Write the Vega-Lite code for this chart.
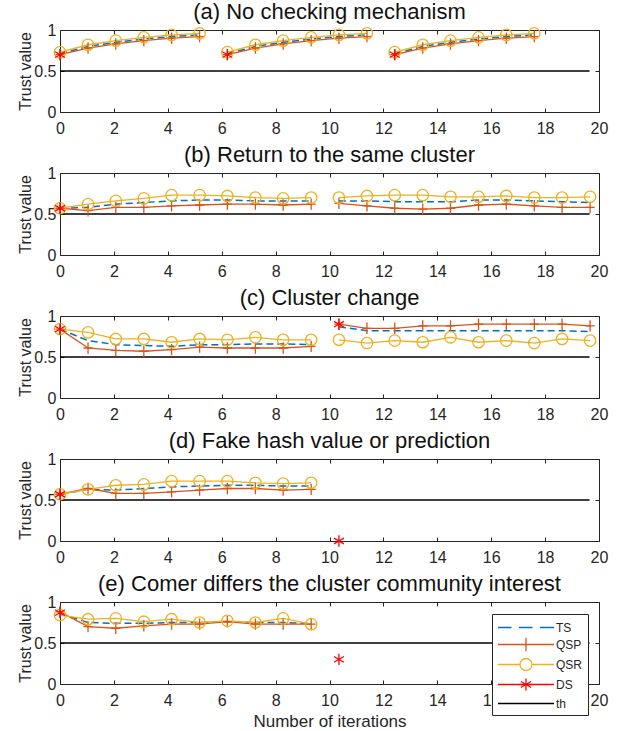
{
"$schema": "https://vega.github.io/schema/vega-lite/v6.json",
"padding": {"left": 17, "top": 0, "right": 5, "bottom": 0},
"background": "white",
"spacing": 6,
"data": {"values": [
{"p":"a","s":"th","g":1,"x":0,"y":0.5},{"p":"a","s":"th","g":1,"x":19.65,"y":0.5},
{"p":"a","s":"TS","g":1,"x":0,"y":0.71},{"p":"a","s":"TS","g":1,"x":1.04,"y":0.8},{"p":"a","s":"TS","g":1,"x":2.07,"y":0.85},{"p":"a","s":"TS","g":1,"x":3.11,"y":0.89},{"p":"a","s":"TS","g":1,"x":4.14,"y":0.92},{"p":"a","s":"TS","g":1,"x":5.18,"y":0.94},
{"p":"a","s":"TS","g":2,"x":6.21,"y":0.71},{"p":"a","s":"TS","g":2,"x":7.25,"y":0.8},{"p":"a","s":"TS","g":2,"x":8.28,"y":0.85},{"p":"a","s":"TS","g":2,"x":9.32,"y":0.89},{"p":"a","s":"TS","g":2,"x":10.35,"y":0.92},{"p":"a","s":"TS","g":2,"x":11.39,"y":0.94},
{"p":"a","s":"TS","g":3,"x":12.42,"y":0.71},{"p":"a","s":"TS","g":3,"x":13.46,"y":0.8},{"p":"a","s":"TS","g":3,"x":14.49,"y":0.85},{"p":"a","s":"TS","g":3,"x":15.53,"y":0.89},{"p":"a","s":"TS","g":3,"x":16.56,"y":0.92},{"p":"a","s":"TS","g":3,"x":17.6,"y":0.94},
{"p":"a","s":"QSP","g":1,"x":0,"y":0.7},{"p":"a","s":"QSP","g":1,"x":1.04,"y":0.78},{"p":"a","s":"QSP","g":1,"x":2.07,"y":0.83},{"p":"a","s":"QSP","g":1,"x":3.11,"y":0.87},{"p":"a","s":"QSP","g":1,"x":4.14,"y":0.9},{"p":"a","s":"QSP","g":1,"x":5.18,"y":0.92},
{"p":"a","s":"QSP","g":2,"x":6.21,"y":0.7},{"p":"a","s":"QSP","g":2,"x":7.25,"y":0.78},{"p":"a","s":"QSP","g":2,"x":8.28,"y":0.83},{"p":"a","s":"QSP","g":2,"x":9.32,"y":0.87},{"p":"a","s":"QSP","g":2,"x":10.35,"y":0.9},{"p":"a","s":"QSP","g":2,"x":11.39,"y":0.92},
{"p":"a","s":"QSP","g":3,"x":12.42,"y":0.7},{"p":"a","s":"QSP","g":3,"x":13.46,"y":0.78},{"p":"a","s":"QSP","g":3,"x":14.49,"y":0.83},{"p":"a","s":"QSP","g":3,"x":15.53,"y":0.87},{"p":"a","s":"QSP","g":3,"x":16.56,"y":0.9},{"p":"a","s":"QSP","g":3,"x":17.6,"y":0.92},
{"p":"a","s":"QSR","g":1,"x":0,"y":0.73},{"p":"a","s":"QSR","g":1,"x":1.04,"y":0.82},{"p":"a","s":"QSR","g":1,"x":2.07,"y":0.87},{"p":"a","s":"QSR","g":1,"x":3.11,"y":0.91},{"p":"a","s":"QSR","g":1,"x":4.14,"y":0.94},{"p":"a","s":"QSR","g":1,"x":5.18,"y":0.96},
{"p":"a","s":"QSR","g":2,"x":6.21,"y":0.73},{"p":"a","s":"QSR","g":2,"x":7.25,"y":0.82},{"p":"a","s":"QSR","g":2,"x":8.28,"y":0.87},{"p":"a","s":"QSR","g":2,"x":9.32,"y":0.91},{"p":"a","s":"QSR","g":2,"x":10.35,"y":0.94},{"p":"a","s":"QSR","g":2,"x":11.39,"y":0.96},
{"p":"a","s":"QSR","g":3,"x":12.42,"y":0.73},{"p":"a","s":"QSR","g":3,"x":13.46,"y":0.82},{"p":"a","s":"QSR","g":3,"x":14.49,"y":0.87},{"p":"a","s":"QSR","g":3,"x":15.53,"y":0.91},{"p":"a","s":"QSR","g":3,"x":16.56,"y":0.94},{"p":"a","s":"QSR","g":3,"x":17.6,"y":0.96},
{"p":"a","s":"DS","g":1,"x":0,"y":0.7},{"p":"a","s":"DS","g":2,"x":6.21,"y":0.7},{"p":"a","s":"DS","g":3,"x":12.42,"y":0.7},

{"p":"b","s":"th","g":1,"x":0,"y":0.5},{"p":"b","s":"th","g":1,"x":19.65,"y":0.5},
{"p":"b","s":"TS","g":1,"x":0,"y":0.57},{"p":"b","s":"TS","g":1,"x":1.04,"y":0.58},{"p":"b","s":"TS","g":1,"x":2.07,"y":0.62},{"p":"b","s":"TS","g":1,"x":3.11,"y":0.64},{"p":"b","s":"TS","g":1,"x":4.14,"y":0.66},{"p":"b","s":"TS","g":1,"x":5.18,"y":0.67},{"p":"b","s":"TS","g":1,"x":6.21,"y":0.67},{"p":"b","s":"TS","g":1,"x":7.25,"y":0.66},{"p":"b","s":"TS","g":1,"x":8.28,"y":0.66},{"p":"b","s":"TS","g":1,"x":9.32,"y":0.66},
{"p":"b","s":"TS","g":2,"x":10.35,"y":0.66},{"p":"b","s":"TS","g":2,"x":11.39,"y":0.66},{"p":"b","s":"TS","g":2,"x":12.42,"y":0.65},{"p":"b","s":"TS","g":2,"x":13.46,"y":0.65},{"p":"b","s":"TS","g":2,"x":14.49,"y":0.65},{"p":"b","s":"TS","g":2,"x":15.53,"y":0.67},{"p":"b","s":"TS","g":2,"x":16.56,"y":0.67},{"p":"b","s":"TS","g":2,"x":17.6,"y":0.66},{"p":"b","s":"TS","g":2,"x":18.63,"y":0.65},{"p":"b","s":"TS","g":2,"x":19.67,"y":0.64},
{"p":"b","s":"QSP","g":1,"x":0,"y":0.57},{"p":"b","s":"QSP","g":1,"x":1.04,"y":0.54},{"p":"b","s":"QSP","g":1,"x":2.07,"y":0.58},{"p":"b","s":"QSP","g":1,"x":3.11,"y":0.58},{"p":"b","s":"QSP","g":1,"x":4.14,"y":0.6},{"p":"b","s":"QSP","g":1,"x":5.18,"y":0.61},{"p":"b","s":"QSP","g":1,"x":6.21,"y":0.62},{"p":"b","s":"QSP","g":1,"x":7.25,"y":0.62},{"p":"b","s":"QSP","g":1,"x":8.28,"y":0.61},{"p":"b","s":"QSP","g":1,"x":9.32,"y":0.62},
{"p":"b","s":"QSP","g":2,"x":10.35,"y":0.63},{"p":"b","s":"QSP","g":2,"x":11.39,"y":0.6},{"p":"b","s":"QSP","g":2,"x":12.42,"y":0.57},{"p":"b","s":"QSP","g":2,"x":13.46,"y":0.56},{"p":"b","s":"QSP","g":2,"x":14.49,"y":0.57},{"p":"b","s":"QSP","g":2,"x":15.53,"y":0.61},{"p":"b","s":"QSP","g":2,"x":16.56,"y":0.62},{"p":"b","s":"QSP","g":2,"x":17.6,"y":0.6},{"p":"b","s":"QSP","g":2,"x":18.63,"y":0.58},{"p":"b","s":"QSP","g":2,"x":19.67,"y":0.58},
{"p":"b","s":"QSR","g":1,"x":0,"y":0.57},{"p":"b","s":"QSR","g":1,"x":1.04,"y":0.62},{"p":"b","s":"QSR","g":1,"x":2.07,"y":0.66},{"p":"b","s":"QSR","g":1,"x":3.11,"y":0.69},{"p":"b","s":"QSR","g":1,"x":4.14,"y":0.73},{"p":"b","s":"QSR","g":1,"x":5.18,"y":0.73},{"p":"b","s":"QSR","g":1,"x":6.21,"y":0.72},{"p":"b","s":"QSR","g":1,"x":7.25,"y":0.7},{"p":"b","s":"QSR","g":1,"x":8.28,"y":0.69},{"p":"b","s":"QSR","g":1,"x":9.32,"y":0.7},
{"p":"b","s":"QSR","g":2,"x":10.35,"y":0.7},{"p":"b","s":"QSR","g":2,"x":11.39,"y":0.72},{"p":"b","s":"QSR","g":2,"x":12.42,"y":0.73},{"p":"b","s":"QSR","g":2,"x":13.46,"y":0.73},{"p":"b","s":"QSR","g":2,"x":14.49,"y":0.71},{"p":"b","s":"QSR","g":2,"x":15.53,"y":0.71},{"p":"b","s":"QSR","g":2,"x":16.56,"y":0.72},{"p":"b","s":"QSR","g":2,"x":17.6,"y":0.7},{"p":"b","s":"QSR","g":2,"x":18.63,"y":0.7},{"p":"b","s":"QSR","g":2,"x":19.67,"y":0.71},
{"p":"b","s":"DS","g":1,"x":0,"y":0.57},

{"p":"c","s":"th","g":1,"x":0,"y":0.5},{"p":"c","s":"th","g":1,"x":19.65,"y":0.5},
{"p":"c","s":"TS","g":1,"x":0,"y":0.84},{"p":"c","s":"TS","g":1,"x":1.04,"y":0.7},{"p":"c","s":"TS","g":1,"x":2.07,"y":0.65},{"p":"c","s":"TS","g":1,"x":3.11,"y":0.64},{"p":"c","s":"TS","g":1,"x":4.14,"y":0.63},{"p":"c","s":"TS","g":1,"x":5.18,"y":0.65},{"p":"c","s":"TS","g":1,"x":6.21,"y":0.65},{"p":"c","s":"TS","g":1,"x":7.25,"y":0.66},{"p":"c","s":"TS","g":1,"x":8.28,"y":0.66},{"p":"c","s":"TS","g":1,"x":9.32,"y":0.65},
{"p":"c","s":"TS","g":2,"x":10.35,"y":0.87},{"p":"c","s":"TS","g":2,"x":11.39,"y":0.82},{"p":"c","s":"TS","g":2,"x":12.42,"y":0.82},{"p":"c","s":"TS","g":2,"x":13.46,"y":0.82},{"p":"c","s":"TS","g":2,"x":14.49,"y":0.82},{"p":"c","s":"TS","g":2,"x":15.53,"y":0.82},{"p":"c","s":"TS","g":2,"x":16.56,"y":0.82},{"p":"c","s":"TS","g":2,"x":17.6,"y":0.82},{"p":"c","s":"TS","g":2,"x":18.63,"y":0.82},{"p":"c","s":"TS","g":2,"x":19.67,"y":0.81},
{"p":"c","s":"QSP","g":1,"x":0,"y":0.84},{"p":"c","s":"QSP","g":1,"x":1.04,"y":0.61},{"p":"c","s":"QSP","g":1,"x":2.07,"y":0.58},{"p":"c","s":"QSP","g":1,"x":3.11,"y":0.57},{"p":"c","s":"QSP","g":1,"x":4.14,"y":0.59},{"p":"c","s":"QSP","g":1,"x":5.18,"y":0.62},{"p":"c","s":"QSP","g":1,"x":6.21,"y":0.61},{"p":"c","s":"QSP","g":1,"x":7.25,"y":0.61},{"p":"c","s":"QSP","g":1,"x":8.28,"y":0.61},{"p":"c","s":"QSP","g":1,"x":9.32,"y":0.63},
{"p":"c","s":"QSP","g":2,"x":10.35,"y":0.9},{"p":"c","s":"QSP","g":2,"x":11.39,"y":0.85},{"p":"c","s":"QSP","g":2,"x":12.42,"y":0.85},{"p":"c","s":"QSP","g":2,"x":13.46,"y":0.88},{"p":"c","s":"QSP","g":2,"x":14.49,"y":0.88},{"p":"c","s":"QSP","g":2,"x":15.53,"y":0.9},{"p":"c","s":"QSP","g":2,"x":16.56,"y":0.9},{"p":"c","s":"QSP","g":2,"x":17.6,"y":0.9},{"p":"c","s":"QSP","g":2,"x":18.63,"y":0.9},{"p":"c","s":"QSP","g":2,"x":19.67,"y":0.88},
{"p":"c","s":"QSR","g":1,"x":0,"y":0.84},{"p":"c","s":"QSR","g":1,"x":1.04,"y":0.8},{"p":"c","s":"QSR","g":1,"x":2.07,"y":0.72},{"p":"c","s":"QSR","g":1,"x":3.11,"y":0.72},{"p":"c","s":"QSR","g":1,"x":4.14,"y":0.68},{"p":"c","s":"QSR","g":1,"x":5.18,"y":0.72},{"p":"c","s":"QSR","g":1,"x":6.21,"y":0.71},{"p":"c","s":"QSR","g":1,"x":7.25,"y":0.74},{"p":"c","s":"QSR","g":1,"x":8.28,"y":0.71},{"p":"c","s":"QSR","g":1,"x":9.32,"y":0.71},
{"p":"c","s":"QSR","g":2,"x":10.35,"y":0.71},{"p":"c","s":"QSR","g":2,"x":11.39,"y":0.67},{"p":"c","s":"QSR","g":2,"x":12.42,"y":0.7},{"p":"c","s":"QSR","g":2,"x":13.46,"y":0.68},{"p":"c","s":"QSR","g":2,"x":14.49,"y":0.74},{"p":"c","s":"QSR","g":2,"x":15.53,"y":0.68},{"p":"c","s":"QSR","g":2,"x":16.56,"y":0.7},{"p":"c","s":"QSR","g":2,"x":17.6,"y":0.67},{"p":"c","s":"QSR","g":2,"x":18.63,"y":0.72},{"p":"c","s":"QSR","g":2,"x":19.67,"y":0.7},
{"p":"c","s":"DS","g":1,"x":0,"y":0.84},{"p":"c","s":"DS","g":2,"x":10.35,"y":0.9},

{"p":"d","s":"th","g":1,"x":0,"y":0.5},{"p":"d","s":"th","g":1,"x":19.65,"y":0.5},
{"p":"d","s":"TS","g":1,"x":0,"y":0.57},{"p":"d","s":"TS","g":1,"x":1.04,"y":0.63},{"p":"d","s":"TS","g":1,"x":2.07,"y":0.62},{"p":"d","s":"TS","g":1,"x":3.11,"y":0.64},{"p":"d","s":"TS","g":1,"x":4.14,"y":0.66},{"p":"d","s":"TS","g":1,"x":5.18,"y":0.67},{"p":"d","s":"TS","g":1,"x":6.21,"y":0.68},{"p":"d","s":"TS","g":1,"x":7.25,"y":0.68},{"p":"d","s":"TS","g":1,"x":8.28,"y":0.67},{"p":"d","s":"TS","g":1,"x":9.32,"y":0.67},
{"p":"d","s":"QSP","g":1,"x":0,"y":0.57},{"p":"d","s":"QSP","g":1,"x":1.04,"y":0.64},{"p":"d","s":"QSP","g":1,"x":2.07,"y":0.58},{"p":"d","s":"QSP","g":1,"x":3.11,"y":0.58},{"p":"d","s":"QSP","g":1,"x":4.14,"y":0.6},{"p":"d","s":"QSP","g":1,"x":5.18,"y":0.62},{"p":"d","s":"QSP","g":1,"x":6.21,"y":0.64},{"p":"d","s":"QSP","g":1,"x":7.25,"y":0.64},{"p":"d","s":"QSP","g":1,"x":8.28,"y":0.62},{"p":"d","s":"QSP","g":1,"x":9.32,"y":0.63},
{"p":"d","s":"QSR","g":1,"x":0,"y":0.57},{"p":"d","s":"QSR","g":1,"x":1.04,"y":0.63},{"p":"d","s":"QSR","g":1,"x":2.07,"y":0.68},{"p":"d","s":"QSR","g":1,"x":3.11,"y":0.69},{"p":"d","s":"QSR","g":1,"x":4.14,"y":0.73},{"p":"d","s":"QSR","g":1,"x":5.18,"y":0.73},{"p":"d","s":"QSR","g":1,"x":6.21,"y":0.73},{"p":"d","s":"QSR","g":1,"x":7.25,"y":0.71},{"p":"d","s":"QSR","g":1,"x":8.28,"y":0.7},{"p":"d","s":"QSR","g":1,"x":9.32,"y":0.71},
{"p":"d","s":"DS","g":1,"x":0,"y":0.57},{"p":"d","s":"DS","g":2,"x":10.35,"y":0},

{"p":"e","s":"th","g":1,"x":0,"y":0.5},{"p":"e","s":"th","g":1,"x":19.65,"y":0.5},
{"p":"e","s":"TS","g":1,"x":0,"y":0.86},{"p":"e","s":"TS","g":1,"x":1.04,"y":0.75},{"p":"e","s":"TS","g":1,"x":2.07,"y":0.74},{"p":"e","s":"TS","g":1,"x":3.11,"y":0.74},{"p":"e","s":"TS","g":1,"x":4.14,"y":0.75},{"p":"e","s":"TS","g":1,"x":5.18,"y":0.75},{"p":"e","s":"TS","g":1,"x":6.21,"y":0.76},{"p":"e","s":"TS","g":1,"x":7.25,"y":0.75},{"p":"e","s":"TS","g":1,"x":8.28,"y":0.75},{"p":"e","s":"TS","g":1,"x":9.32,"y":0.74},
{"p":"e","s":"QSP","g":1,"x":0,"y":0.88},{"p":"e","s":"QSP","g":1,"x":1.04,"y":0.7},{"p":"e","s":"QSP","g":1,"x":2.07,"y":0.68},{"p":"e","s":"QSP","g":1,"x":3.11,"y":0.71},{"p":"e","s":"QSP","g":1,"x":4.14,"y":0.73},{"p":"e","s":"QSP","g":1,"x":5.18,"y":0.73},{"p":"e","s":"QSP","g":1,"x":6.21,"y":0.76},{"p":"e","s":"QSP","g":1,"x":7.25,"y":0.73},{"p":"e","s":"QSP","g":1,"x":8.28,"y":0.73},{"p":"e","s":"QSP","g":1,"x":9.32,"y":0.73},
{"p":"e","s":"QSR","g":1,"x":0,"y":0.84},{"p":"e","s":"QSR","g":1,"x":1.04,"y":0.79},{"p":"e","s":"QSR","g":1,"x":2.07,"y":0.8},{"p":"e","s":"QSR","g":1,"x":3.11,"y":0.76},{"p":"e","s":"QSR","g":1,"x":4.14,"y":0.79},{"p":"e","s":"QSR","g":1,"x":5.18,"y":0.75},{"p":"e","s":"QSR","g":1,"x":6.21,"y":0.77},{"p":"e","s":"QSR","g":1,"x":7.25,"y":0.75},{"p":"e","s":"QSR","g":1,"x":8.28,"y":0.8},{"p":"e","s":"QSR","g":1,"x":9.32,"y":0.73},
{"p":"e","s":"DS","g":1,"x":0,"y":0.87},{"p":"e","s":"DS","g":2,"x":10.35,"y":0.3}
]},
"resolve": {"scale": {"color": "independent", "shape": "independent"}, "legend": {"color": "independent", "shape": "independent"}},
"vconcat": [
{
 "title": {"text": "(a) No checking mechanism"},
 "width": 539, "height": 82,
 "transform": [{"filter": "datum.p === 'a'"}],
 "resolve": {"axis": {"x": "independent", "y": "independent"}},
 "layer": [
  {"transform": [{"filter": "datum.s === 'th'"}], "mark": {"type": "line", "color": "#000000", "strokeWidth": 1.4},
   "encoding": {"x": {"field": "x", "type": "quantitative", "scale": {"domain": [0, 20], "nice": false}, "axis": {"title": null, "values": [0,2,4,6,8,10,12,14,16,18,20]}},
                "y": {"field": "y", "type": "quantitative", "scale": {"domain": [0, 1], "nice": false}, "axis": {"title": "Trust value", "values": [0,0.5,1], "format": "~g"}}}},
  {"transform": [{"filter": "datum.s === 'TS'"}], "mark": {"type": "line", "color": "#0072BD", "strokeWidth": 1.5, "strokeDash": [7, 4]},
   "encoding": {"x": {"field": "x", "type": "quantitative", "axis": {"orient": "top", "labels": false, "title": null, "values": [0,2,4,6,8,10,12,14,16,18,20]}},
                "y": {"field": "y", "type": "quantitative", "axis": {"orient": "right", "labels": false, "title": null, "values": [0,0.5,1]}}, "detail": {"field": "g"}}},
  {"transform": [{"filter": "datum.s === 'QSP'"}], "mark": {"type": "line", "color": "#D95319", "strokeWidth": 1.3},
   "encoding": {"x": {"field": "x", "type": "quantitative", "axis": null}, "y": {"field": "y", "type": "quantitative", "axis": null}, "detail": {"field": "g"}}},
  {"transform": [{"filter": "datum.s === 'QSR'"}], "mark": {"type": "line", "color": "#EDB120", "strokeWidth": 1.3},
   "encoding": {"x": {"field": "x", "type": "quantitative", "axis": null}, "y": {"field": "y", "type": "quantitative", "axis": null}, "detail": {"field": "g"}}},
  {"transform": [{"filter": "datum.s === 'QSP' || datum.s === 'QSR' || datum.s === 'DS'"}], "mark": {"type": "point", "filled": false, "strokeWidth": 1.3, "size": 130, "opacity": 1},
   "encoding": {"x": {"field": "x", "type": "quantitative", "axis": null}, "y": {"field": "y", "type": "quantitative", "axis": null},
     "color": {"field": "s", "type": "nominal", "scale": {"domain": ["TS","QSP","QSR","DS","th"], "range": ["#0072BD","#D95319","#EDB120","#FF0000","#000000"]}, "legend": null},
     "shape": {"field": "s", "type": "nominal", "scale": {"domain": ["TS","QSP","QSR","DS","th"], "range": ["M-1,0H1","M-0.8,0H0.8M0,-1V1","circle","M0,-1V1M-0.87,-0.5L0.87,0.5M-0.87,0.5L0.87,-0.5","M-1,0H1"]}, "legend": null}}}
 ]
},
{
 "title": {"text": "(b) Return to the same cluster"},
 "width": 539, "height": 82,
 "transform": [{"filter": "datum.p === 'b'"}],
 "resolve": {"axis": {"x": "independent", "y": "independent"}},
 "layer": [
  {"transform": [{"filter": "datum.s === 'th'"}], "mark": {"type": "line", "color": "#000000", "strokeWidth": 1.4},
   "encoding": {"x": {"field": "x", "type": "quantitative", "scale": {"domain": [0, 20], "nice": false}, "axis": {"title": null, "values": [0,2,4,6,8,10,12,14,16,18,20]}},
                "y": {"field": "y", "type": "quantitative", "scale": {"domain": [0, 1], "nice": false}, "axis": {"title": "Trust value", "values": [0,0.5,1], "format": "~g"}}}},
  {"transform": [{"filter": "datum.s === 'TS'"}], "mark": {"type": "line", "color": "#0072BD", "strokeWidth": 1.5, "strokeDash": [7, 4]},
   "encoding": {"x": {"field": "x", "type": "quantitative", "axis": {"orient": "top", "labels": false, "title": null, "values": [0,2,4,6,8,10,12,14,16,18,20]}},
                "y": {"field": "y", "type": "quantitative", "axis": {"orient": "right", "labels": false, "title": null, "values": [0,0.5,1]}}, "detail": {"field": "g"}}},
  {"transform": [{"filter": "datum.s === 'QSP'"}], "mark": {"type": "line", "color": "#D95319", "strokeWidth": 1.3},
   "encoding": {"x": {"field": "x", "type": "quantitative", "axis": null}, "y": {"field": "y", "type": "quantitative", "axis": null}, "detail": {"field": "g"}}},
  {"transform": [{"filter": "datum.s === 'QSR'"}], "mark": {"type": "line", "color": "#EDB120", "strokeWidth": 1.3},
   "encoding": {"x": {"field": "x", "type": "quantitative", "axis": null}, "y": {"field": "y", "type": "quantitative", "axis": null}, "detail": {"field": "g"}}},
  {"transform": [{"filter": "datum.s === 'QSP' || datum.s === 'QSR' || datum.s === 'DS'"}], "mark": {"type": "point", "filled": false, "strokeWidth": 1.3, "size": 130, "opacity": 1},
   "encoding": {"x": {"field": "x", "type": "quantitative", "axis": null}, "y": {"field": "y", "type": "quantitative", "axis": null},
     "color": {"field": "s", "type": "nominal", "scale": {"domain": ["TS","QSP","QSR","DS","th"], "range": ["#0072BD","#D95319","#EDB120","#FF0000","#000000"]}, "legend": null},
     "shape": {"field": "s", "type": "nominal", "scale": {"domain": ["TS","QSP","QSR","DS","th"], "range": ["M-1,0H1","M-0.8,0H0.8M0,-1V1","circle","M0,-1V1M-0.87,-0.5L0.87,0.5M-0.87,0.5L0.87,-0.5","M-1,0H1"]}, "legend": null}}}
 ]
},
{
 "title": {"text": "(c) Cluster change"},
 "width": 539, "height": 82,
 "transform": [{"filter": "datum.p === 'c'"}],
 "resolve": {"axis": {"x": "independent", "y": "independent"}},
 "layer": [
  {"transform": [{"filter": "datum.s === 'th'"}], "mark": {"type": "line", "color": "#000000", "strokeWidth": 1.4},
   "encoding": {"x": {"field": "x", "type": "quantitative", "scale": {"domain": [0, 20], "nice": false}, "axis": {"title": null, "values": [0,2,4,6,8,10,12,14,16,18,20]}},
                "y": {"field": "y", "type": "quantitative", "scale": {"domain": [0, 1], "nice": false}, "axis": {"title": "Trust value", "values": [0,0.5,1], "format": "~g"}}}},
  {"transform": [{"filter": "datum.s === 'TS'"}], "mark": {"type": "line", "color": "#0072BD", "strokeWidth": 1.5, "strokeDash": [7, 4]},
   "encoding": {"x": {"field": "x", "type": "quantitative", "axis": {"orient": "top", "labels": false, "title": null, "values": [0,2,4,6,8,10,12,14,16,18,20]}},
                "y": {"field": "y", "type": "quantitative", "axis": {"orient": "right", "labels": false, "title": null, "values": [0,0.5,1]}}, "detail": {"field": "g"}}},
  {"transform": [{"filter": "datum.s === 'QSP'"}], "mark": {"type": "line", "color": "#D95319", "strokeWidth": 1.3},
   "encoding": {"x": {"field": "x", "type": "quantitative", "axis": null}, "y": {"field": "y", "type": "quantitative", "axis": null}, "detail": {"field": "g"}}},
  {"transform": [{"filter": "datum.s === 'QSR'"}], "mark": {"type": "line", "color": "#EDB120", "strokeWidth": 1.3},
   "encoding": {"x": {"field": "x", "type": "quantitative", "axis": null}, "y": {"field": "y", "type": "quantitative", "axis": null}, "detail": {"field": "g"}}},
  {"transform": [{"filter": "datum.s === 'QSP' || datum.s === 'QSR' || datum.s === 'DS'"}], "mark": {"type": "point", "filled": false, "strokeWidth": 1.3, "size": 130, "opacity": 1},
   "encoding": {"x": {"field": "x", "type": "quantitative", "axis": null}, "y": {"field": "y", "type": "quantitative", "axis": null},
     "color": {"field": "s", "type": "nominal", "scale": {"domain": ["TS","QSP","QSR","DS","th"], "range": ["#0072BD","#D95319","#EDB120","#FF0000","#000000"]}, "legend": null},
     "shape": {"field": "s", "type": "nominal", "scale": {"domain": ["TS","QSP","QSR","DS","th"], "range": ["M-1,0H1","M-0.8,0H0.8M0,-1V1","circle","M0,-1V1M-0.87,-0.5L0.87,0.5M-0.87,0.5L0.87,-0.5","M-1,0H1"]}, "legend": null}}}
 ]
},
{
 "title": {"text": "(d) Fake hash value or prediction"},
 "width": 539, "height": 82,
 "transform": [{"filter": "datum.p === 'd'"}],
 "resolve": {"axis": {"x": "independent", "y": "independent"}},
 "layer": [
  {"transform": [{"filter": "datum.s === 'th'"}], "mark": {"type": "line", "color": "#000000", "strokeWidth": 1.4},
   "encoding": {"x": {"field": "x", "type": "quantitative", "scale": {"domain": [0, 20], "nice": false}, "axis": {"title": null, "values": [0,2,4,6,8,10,12,14,16,18,20]}},
                "y": {"field": "y", "type": "quantitative", "scale": {"domain": [0, 1], "nice": false}, "axis": {"title": "Trust value", "values": [0,0.5,1], "format": "~g"}}}},
  {"transform": [{"filter": "datum.s === 'TS'"}], "mark": {"type": "line", "color": "#0072BD", "strokeWidth": 1.5, "strokeDash": [7, 4]},
   "encoding": {"x": {"field": "x", "type": "quantitative", "axis": {"orient": "top", "labels": false, "title": null, "values": [0,2,4,6,8,10,12,14,16,18,20]}},
                "y": {"field": "y", "type": "quantitative", "axis": {"orient": "right", "labels": false, "title": null, "values": [0,0.5,1]}}, "detail": {"field": "g"}}},
  {"transform": [{"filter": "datum.s === 'QSP'"}], "mark": {"type": "line", "color": "#D95319", "strokeWidth": 1.3},
   "encoding": {"x": {"field": "x", "type": "quantitative", "axis": null}, "y": {"field": "y", "type": "quantitative", "axis": null}, "detail": {"field": "g"}}},
  {"transform": [{"filter": "datum.s === 'QSR'"}], "mark": {"type": "line", "color": "#EDB120", "strokeWidth": 1.3},
   "encoding": {"x": {"field": "x", "type": "quantitative", "axis": null}, "y": {"field": "y", "type": "quantitative", "axis": null}, "detail": {"field": "g"}}},
  {"transform": [{"filter": "datum.s === 'QSP' || datum.s === 'QSR' || datum.s === 'DS'"}], "mark": {"type": "point", "filled": false, "strokeWidth": 1.3, "size": 130, "opacity": 1},
   "encoding": {"x": {"field": "x", "type": "quantitative", "axis": null}, "y": {"field": "y", "type": "quantitative", "axis": null},
     "color": {"field": "s", "type": "nominal", "scale": {"domain": ["TS","QSP","QSR","DS","th"], "range": ["#0072BD","#D95319","#EDB120","#FF0000","#000000"]}, "legend": null},
     "shape": {"field": "s", "type": "nominal", "scale": {"domain": ["TS","QSP","QSR","DS","th"], "range": ["M-1,0H1","M-0.8,0H0.8M0,-1V1","circle","M0,-1V1M-0.87,-0.5L0.87,0.5M-0.87,0.5L0.87,-0.5","M-1,0H1"]}, "legend": null}}}
 ]
},
{
 "title": {"text": "(e) Comer differs the cluster community interest"},
 "width": 539, "height": 82,
 "transform": [{"filter": "datum.p === 'e'"}],
 "resolve": {"axis": {"x": "independent", "y": "independent"}, "scale": {"color": "independent", "shape": "independent"}, "legend": {"color": "independent", "shape": "independent"}},
 "layer": [
  {"transform": [{"filter": "datum.s === 'th'"}], "mark": {"type": "line", "color": "#000000", "strokeWidth": 1.4},
   "encoding": {"x": {"field": "x", "type": "quantitative", "scale": {"domain": [0, 20], "nice": false}, "axis": {"title": "Number of iterations", "values": [0,2,4,6,8,10,12,14,16,18,20]}},
                "y": {"field": "y", "type": "quantitative", "scale": {"domain": [0, 1], "nice": false}, "axis": {"title": "Trust value", "values": [0,0.5,1], "format": "~g"}}}},
  {"transform": [{"filter": "datum.s === 'TS'"}], "mark": {"type": "line", "color": "#0072BD", "strokeWidth": 1.5, "strokeDash": [7, 4]},
   "encoding": {"x": {"field": "x", "type": "quantitative", "axis": {"orient": "top", "labels": false, "title": null, "values": [0,2,4,6,8,10,12,14,16,18,20]}},
                "y": {"field": "y", "type": "quantitative", "axis": {"orient": "right", "labels": false, "title": null, "values": [0,0.5,1]}}, "detail": {"field": "g"}}},
  {"transform": [{"filter": "datum.s === 'QSP'"}], "mark": {"type": "line", "color": "#D95319", "strokeWidth": 1.3},
   "encoding": {"x": {"field": "x", "type": "quantitative", "axis": null}, "y": {"field": "y", "type": "quantitative", "axis": null}, "detail": {"field": "g"}}},
  {"transform": [{"filter": "datum.s === 'QSR'"}], "mark": {"type": "line", "color": "#EDB120", "strokeWidth": 1.3},
   "encoding": {"x": {"field": "x", "type": "quantitative", "axis": null}, "y": {"field": "y", "type": "quantitative", "axis": null}, "detail": {"field": "g"}}},
  {"transform": [{"filter": "datum.s === 'QSP' || datum.s === 'QSR' || datum.s === 'DS'"}], "mark": {"type": "point", "filled": false, "strokeWidth": 1.3, "size": 130, "opacity": 1},
   "encoding": {"x": {"field": "x", "type": "quantitative", "axis": null}, "y": {"field": "y", "type": "quantitative", "axis": null},
     "color": {"field": "s", "type": "nominal", "scale": {"domain": ["TS","QSP","QSR","DS","th"], "range": ["#0072BD","#D95319","#EDB120","#FF0000","#000000"]}, "legend": null},
     "shape": {"field": "s", "type": "nominal", "scale": {"domain": ["TS","QSP","QSR","DS","th"], "range": ["M-1,0H1","M-0.8,0H0.8M0,-1V1","circle","M0,-1V1M-0.87,-0.5L0.87,0.5M-0.87,0.5L0.87,-0.5","M-1,0H1"]}, "legend": null}}},
  {"transform": [{"filter": "datum.p === 'none'"}], "mark": {"type": "point", "filled": false, "strokeWidth": 1.3, "size": 225, "opacity": 1},
   "encoding": {"x": {"field": "x", "type": "quantitative", "axis": null}, "y": {"field": "y", "type": "quantitative", "axis": null},
     "color": {"field": "s", "type": "nominal", "scale": {"domain": ["TS","QSP","QSR","DS","th"], "range": ["#0072BD","#D95319","#EDB120","#FF0000","#000000"]},
       "legend": {"orient": "none", "legendX": 432, "legendY": 12, "title": null, "strokeColor": "#262626", "fillColor": "white", "padding": 5, "labelFont": "Liberation Sans", "labelFontSize": 12, "labelColor": "#262626", "labelOffset": 42, "rowPadding": 1, "symbolSize": 225, "symbolStrokeWidth": 1.3}},
     "shape": {"field": "s", "type": "nominal", "scale": {"domain": ["TS","QSP","QSR","DS","th"], "range": ["M-1,0H0.8M1.8,0H3.6M4.6,0H6.47","M-1,0H6.47M2.73,-0.9V0.9","M-1,0H1.93M3.53,0H6.47M1.93,0A0.8,0.8 0 1,0 3.53,0A0.8,0.8 0 1,0 1.93,0","M-1,0H6.47M2.73,-0.8V0.8M2.04,-0.4L3.42,0.4M2.04,0.4L3.42,-0.4","M-1,0H6.47"]},
       "legend": {"orient": "none", "legendX": 432, "legendY": 12, "title": null, "strokeColor": "#262626", "fillColor": "white", "padding": 5, "labelFont": "Liberation Sans", "labelFontSize": 12, "labelColor": "#262626", "labelOffset": 42, "rowPadding": 1, "symbolSize": 225, "symbolStrokeWidth": 1.3}}}}
 ]
}
],
"config": {
 "font": "Liberation Sans",
 "view": {"stroke": "#262626", "strokeWidth": 1},
 "title": {"font": "Liberation Sans", "fontSize": 22, "fontWeight": "normal", "color": "#111111", "offset": -2, "frame": "group", "anchor": "middle"},
 "axis": {"domain": false, "grid": false, "labelFont": "Liberation Sans", "labelFontSize": 16, "labelColor": "#262626", "labelFlush": false, "labelOverlap": false, "tickColor": "#262626", "tickSize": -4, "tickWidth": 1, "labelPadding": 8, "titleFont": "Liberation Sans", "titleFontSize": 16, "titleFontWeight": "normal", "titleColor": "#262626", "titlePadding": 0},
 "axisX": {"labelPadding": 12, "titleFontSize": 17, "titlePadding": 5},
 "legend": {"labelFont": "Liberation Sans"}
}
}
